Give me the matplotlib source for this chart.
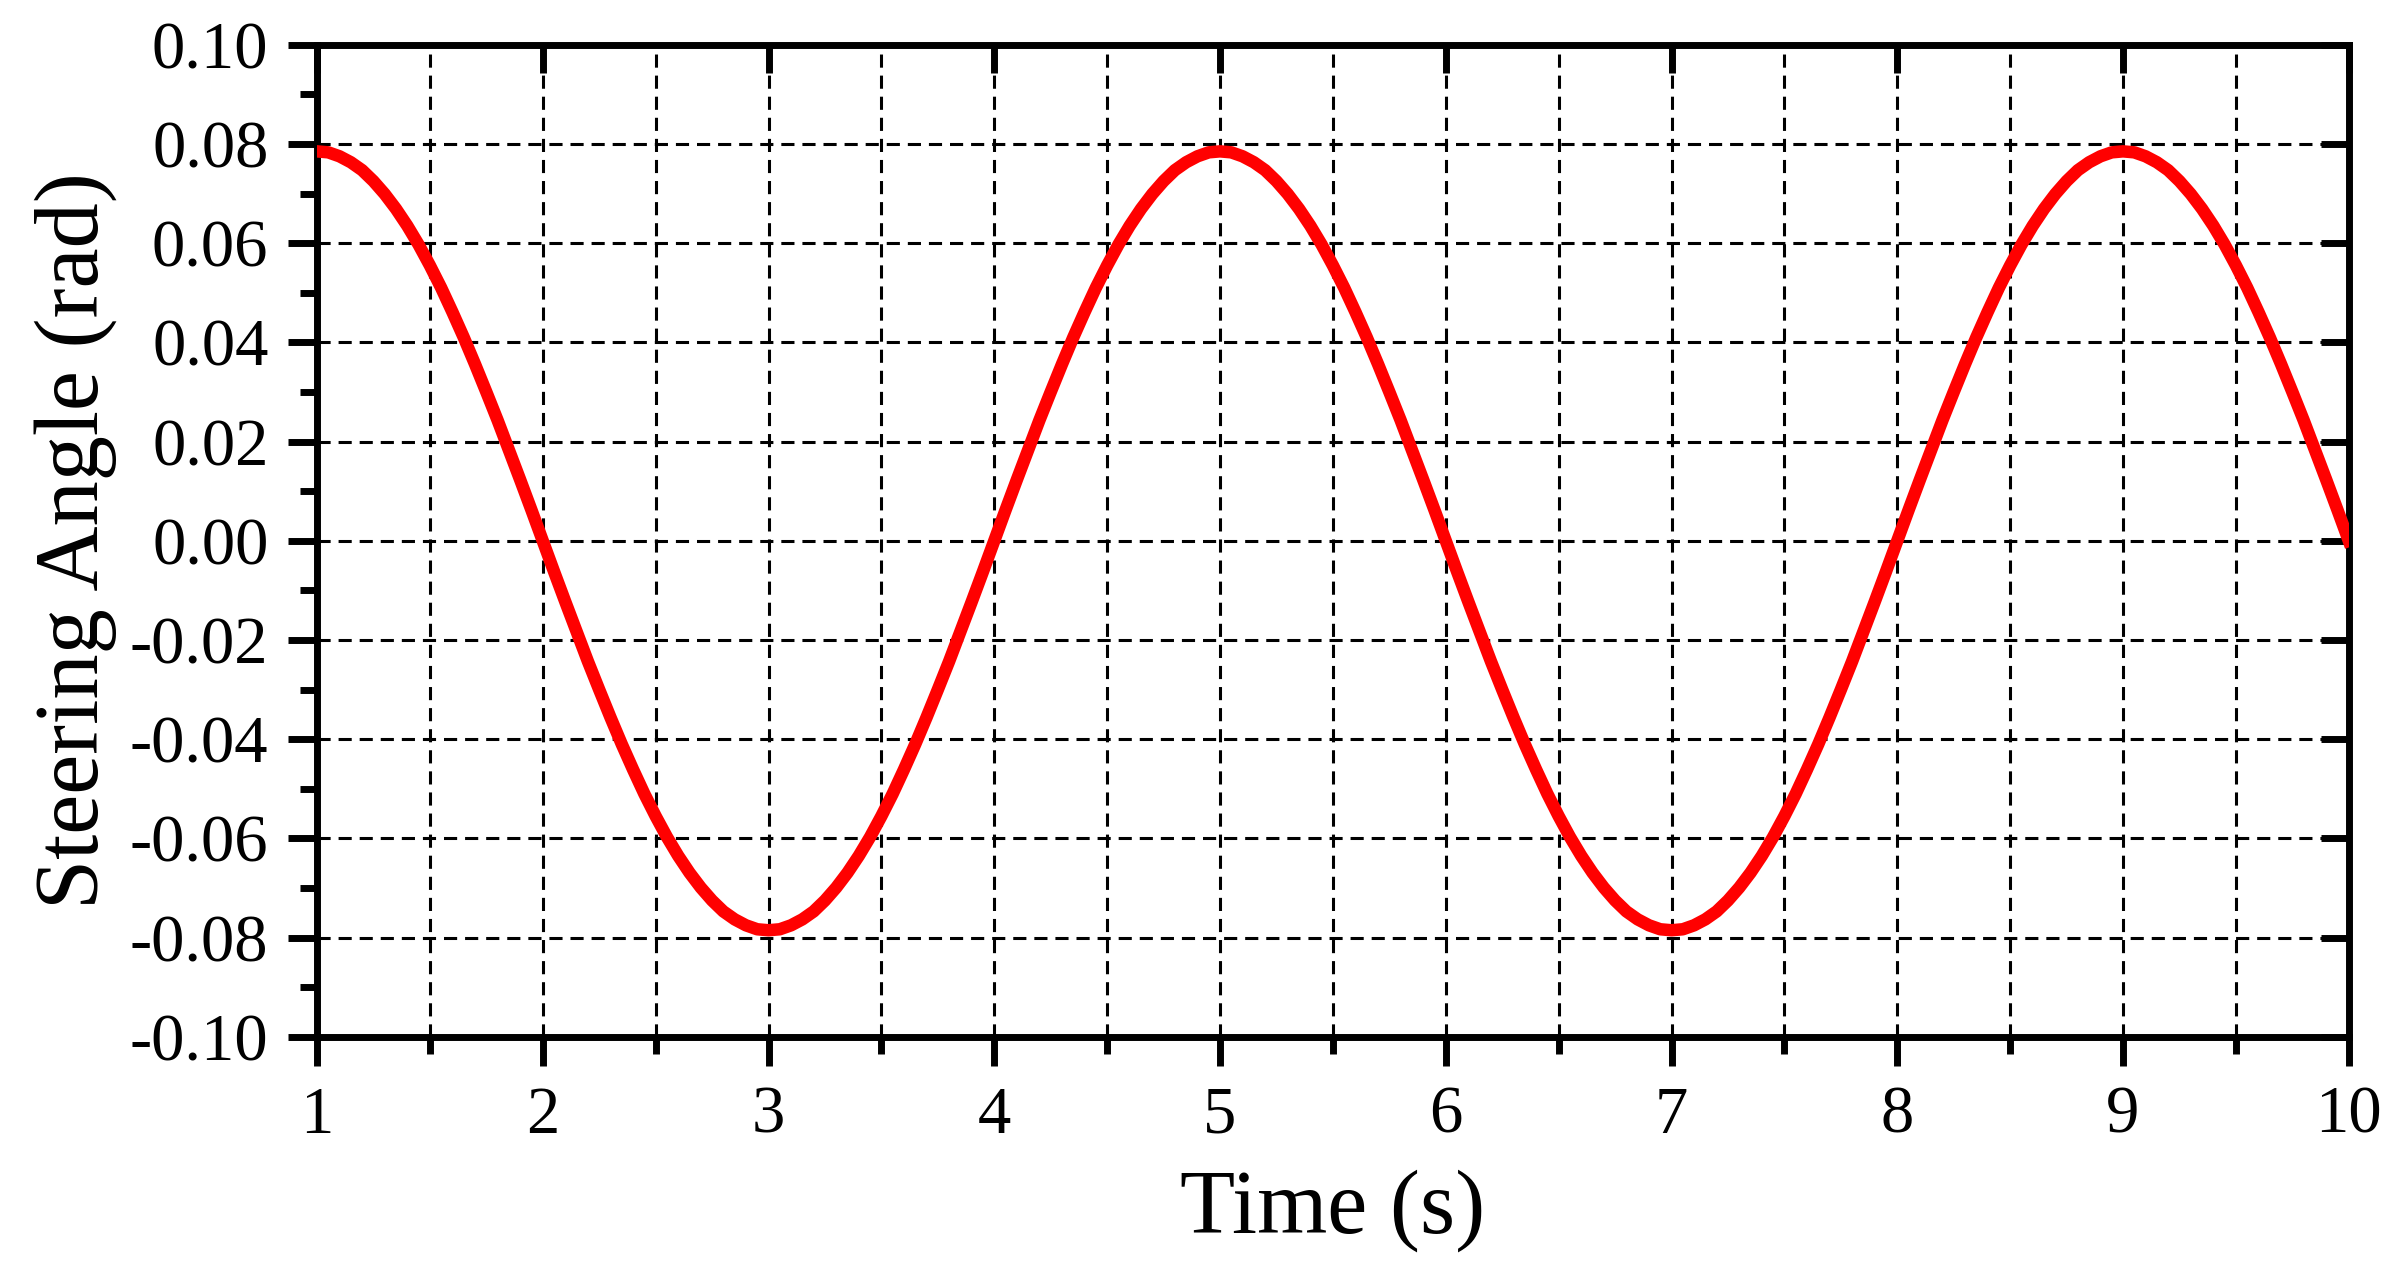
import numpy as np
import matplotlib
matplotlib.use('agg')
import matplotlib.pyplot as plt
from matplotlib.ticker import MultipleLocator, FormatStrFormatter

# time samples (s), every 0.05 s
time = np.round(np.arange(1.0, 10.001, 0.05), 2)

# steering angle (rad)
angle = [
    0.0785, 0.0783, 0.0775, 0.0763, 0.0747, 0.0725, 0.0699, 0.0669, 0.0635, 0.0597,
    0.0555, 0.0510, 0.0461, 0.0410, 0.0356, 0.0300, 0.0243, 0.0183, 0.0123, 0.0062, 0.0,
    -0.0062, -0.0123, -0.0183, -0.0243, -0.0300, -0.0356, -0.0410, -0.0461, -0.0510, -0.0555,
    -0.0597, -0.0635, -0.0669, -0.0699, -0.0725, -0.0747, -0.0763, -0.0775, -0.0783, -0.0785,
    -0.0783, -0.0775, -0.0763, -0.0747, -0.0725, -0.0699, -0.0669, -0.0635, -0.0597, -0.0555,
    -0.0510, -0.0461, -0.0410, -0.0356, -0.0300, -0.0243, -0.0183, -0.0123, -0.0062, 0.0,
    0.0062, 0.0123, 0.0183, 0.0243, 0.0300, 0.0356, 0.0410, 0.0461, 0.0510, 0.0555,
    0.0597, 0.0635, 0.0669, 0.0699, 0.0725, 0.0747, 0.0763, 0.0775, 0.0783, 0.0785,
    0.0783, 0.0775, 0.0763, 0.0747, 0.0725, 0.0699, 0.0669, 0.0635, 0.0597, 0.0555,
    0.0510, 0.0461, 0.0410, 0.0356, 0.0300, 0.0243, 0.0183, 0.0123, 0.0062, 0.0,
    -0.0062, -0.0123, -0.0183, -0.0243, -0.0300, -0.0356, -0.0410, -0.0461, -0.0510, -0.0555,
    -0.0597, -0.0635, -0.0669, -0.0699, -0.0725, -0.0747, -0.0763, -0.0775, -0.0783, -0.0785,
    -0.0783, -0.0775, -0.0763, -0.0747, -0.0725, -0.0699, -0.0669, -0.0635, -0.0597, -0.0555,
    -0.0510, -0.0461, -0.0410, -0.0356, -0.0300, -0.0243, -0.0183, -0.0123, -0.0062, 0.0,
    0.0062, 0.0123, 0.0183, 0.0243, 0.0300, 0.0356, 0.0410, 0.0461, 0.0510, 0.0555,
    0.0597, 0.0635, 0.0669, 0.0699, 0.0725, 0.0747, 0.0763, 0.0775, 0.0783, 0.0785,
    0.0783, 0.0775, 0.0763, 0.0747, 0.0725, 0.0699, 0.0669, 0.0635, 0.0597, 0.0555,
    0.0510, 0.0461, 0.0410, 0.0356, 0.0300, 0.0243, 0.0183, 0.0123, 0.0062, 0.0,
]

y_ticks = [-0.10, -0.08, -0.06, -0.04, -0.02, 0.00, 0.02, 0.04, 0.06, 0.08, 0.10]

plt.rcParams['font.family'] = 'Liberation Serif'
plt.rcParams['axes.unicode_minus'] = False

fig = plt.figure(figsize=(23.96, 12.77), dpi=100)
ax = fig.add_axes([0.1323, 0.188, 0.8480, 0.777])

ax.plot(time, angle, color='#ff0000', linewidth=9, solid_joinstyle='round', zorder=3)

ax.set_xlim(1, 10)
ax.set_ylim(-0.10, 0.10)
ax.xaxis.set_major_locator(MultipleLocator(1))
ax.xaxis.set_minor_locator(MultipleLocator(0.5))
ax.set_yticks(y_ticks)
ax.yaxis.set_minor_locator(MultipleLocator(0.01))
ax.set_yticklabels(['%.2f' % abs(v) if abs(v) < 1e-9 else '%.2f' % v for v in y_ticks])

dash = (0, (4.3, 2.6))
ax.grid(True, which='major', axis='both', color='black', linestyle=dash, linewidth=2.2)
ax.grid(True, which='minor', axis='x', color='black', linestyle=dash, linewidth=2.2)

for s in ax.spines.values():
    s.set_linewidth(5)

ax.tick_params(which='major', direction='out', length=21, width=5, labelsize=48, pad=14)
ax.tick_params(which='minor', direction='out', length=12, width=5)

# inward major ticks on top and right
top = ax.secondary_xaxis('top')
top.set_xticks(range(1, 11))
top.tick_params(direction='in', length=20, width=5, labeltop=False)
top.spines['top'].set_visible(False)
right = ax.secondary_yaxis('right')
right.set_yticks(y_ticks)
right.tick_params(direction='in', length=20, width=5, labelright=False)
right.spines['right'].set_visible(False)

ax.set_xlabel('Time (s)', fontsize=65, labelpad=16)
ax.set_ylabel('Steering Angle (rad)', fontsize=65, labelpad=9)

fig.savefig('out.png', dpi=100)
